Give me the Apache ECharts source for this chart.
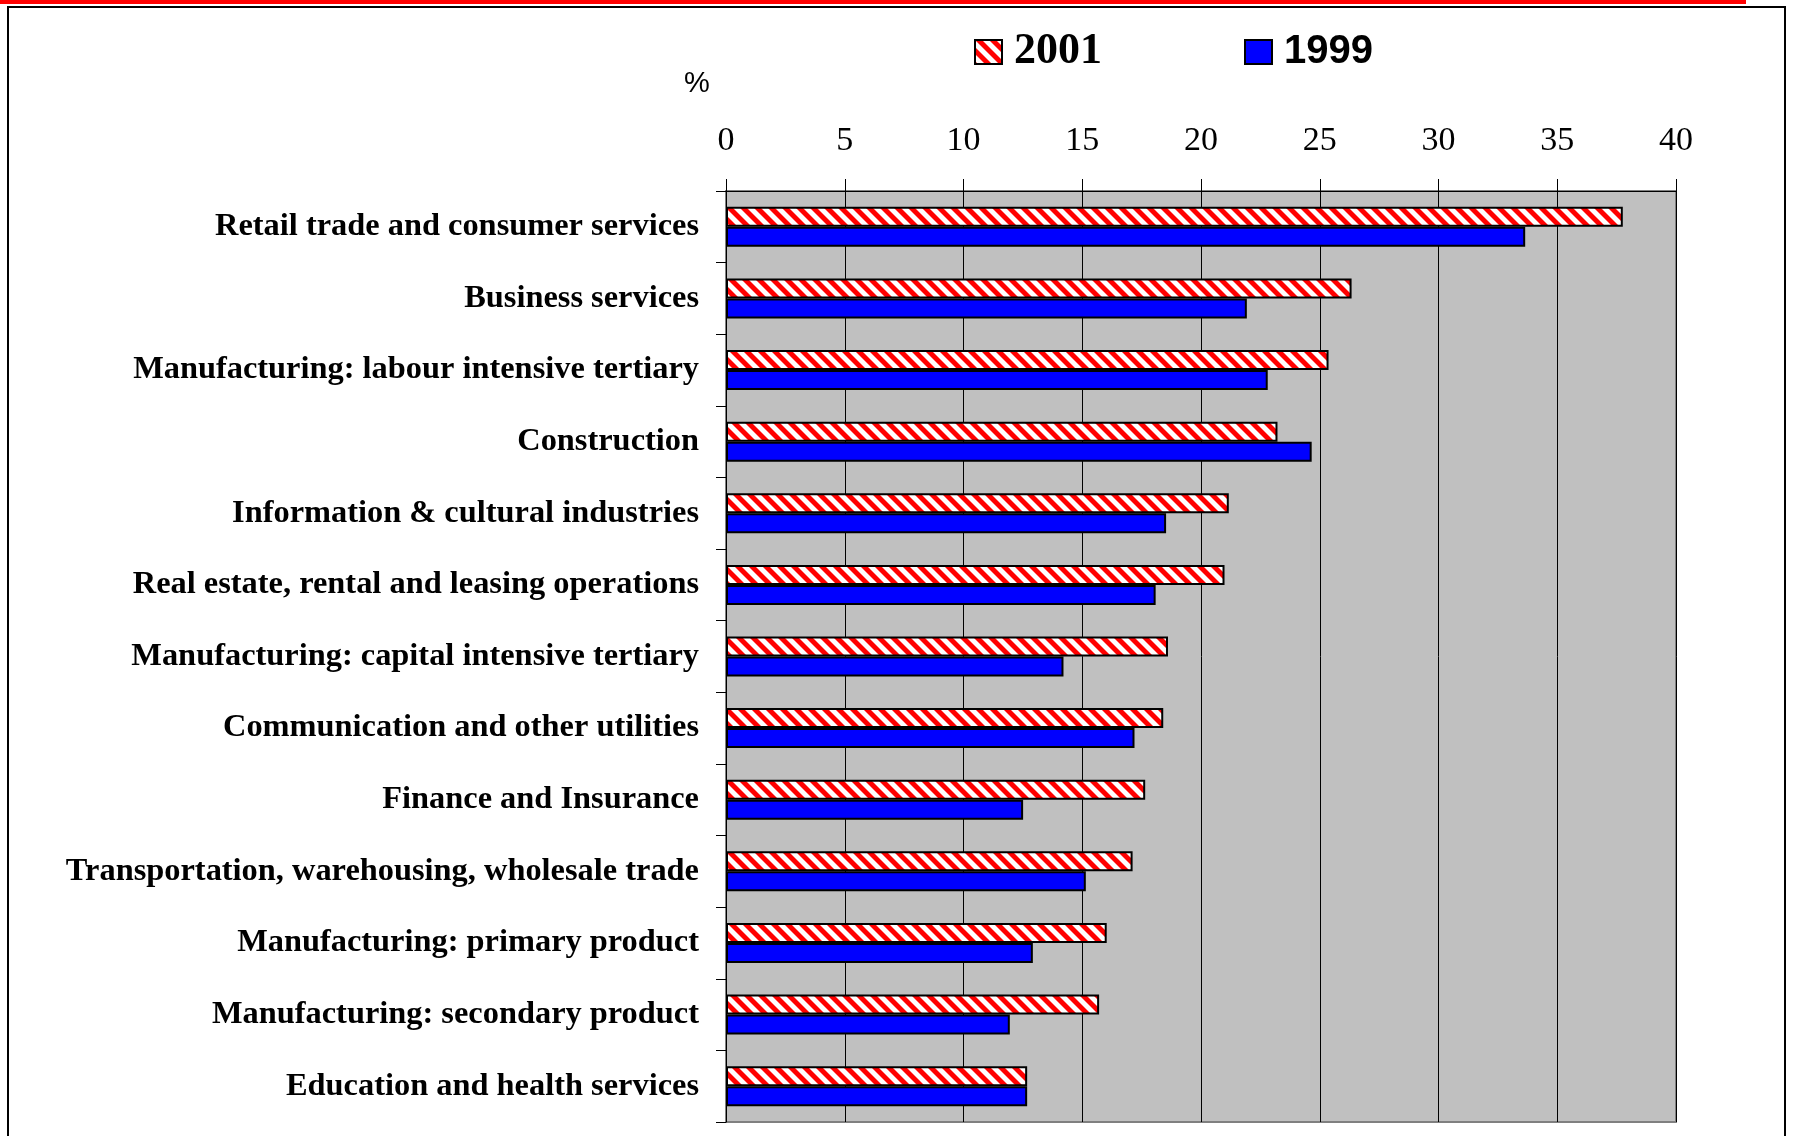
<!DOCTYPE html>
<html>
<head>
<meta charset="utf-8">
<script src="https://cdn.jsdelivr.net/npm/echarts@6/dist/echarts.min.js"></script>
<style>
html,body{margin:0;padding:0;background:#fff;}
#chart{width:1793px;height:1136px;}
</style>
</head>
<body>
<div id="chart"></div>
<script>
var categories = [
  "Retail trade and consumer services",
  "Business services",
  "Manufacturing: labour intensive tertiary",
  "Construction",
  "Information & cultural industries",
  "Real estate, rental and leasing operations",
  "Manufacturing: capital intensive tertiary",
  "Communication and other utilities",
  "Finance and Insurance",
  "Transportation, warehousing, wholesale trade",
  "Manufacturing: primary product",
  "Manufacturing: secondary product",
  "Education and health services"
];
var values2001 = [37.76, 26.34, 25.37, 23.22, 21.17, 20.99, 18.61, 18.41, 17.65, 17.12, 16.03, 15.71, 12.68];
var values1999 = [33.65, 21.93, 22.81, 24.66, 18.53, 18.09, 14.21, 17.20, 12.51, 15.15, 12.92, 11.95, 12.68];
var seriesNames = ["2001", "1999"];
var tickMin = 0, tickMax = 40, tickStep = 5;

// diagonal red/white hatch pattern
function makeHatch(P) {
  var c = document.createElement('canvas');
  c.width = P; c.height = P;
  var ctx = c.getContext('2d');
  ctx.fillStyle = '#ffffff';
  ctx.fillRect(0, 0, P, P);
  ctx.fillStyle = '#ff0000';
  for (var k = -2; k <= 1; k++) {
    var cx = k * P;
    ctx.beginPath();
    ctx.moveTo(cx, 0);
    ctx.lineTo(cx + P / 2, 0);
    ctx.lineTo(cx + P / 2 + P, P);
    ctx.lineTo(cx + P, P);
    ctx.closePath();
    ctx.fill();
  }
  return c;
}
var hatch = { image: makeHatch(14), repeat: 'repeat' };

var serif = "'Liberation Serif','Times New Roman',serif";
var sans = "'Liberation Sans',Arial,sans-serif";

var chart = echarts.init(document.getElementById('chart'), null, { renderer: 'canvas' });
chart.setOption({
  backgroundColor: '#ffffff',
  animation: false,
  graphic: [
    { type: 'rect', shape: { x: 0, y: 0, width: 1746, height: 4 }, style: { fill: '#ff0000' }, silent: true },
    { type: 'rect', shape: { x: 8, y: 7, width: 1777, height: 1200 }, style: { fill: null, stroke: '#000', lineWidth: 2 }, silent: true },
    { type: 'text', left: 684, top: 69, style: { text: '%', font: '29px ' + sans, fill: '#000' }, silent: true }
  ],
  legend: {
    left: 974,
    top: 30,
    padding: 0,
    itemWidth: 27,
    itemHeight: 24,
    itemGap: 142,
    icon: 'rect',
    data: [
      { name: '2001', itemStyle: { color: hatch, borderColor: '#000', borderWidth: 2 } },
      { name: '1999', itemStyle: { color: '#0000ff', borderColor: '#000', borderWidth: 2 } }
    ],
    formatter: function (n) { return n === '2001' ? '{t|' + n + '}' : '{a|' + n + '}'; },
    textStyle: {
      padding: [0, 0, 0, 7],
      rich: {
        t: { fontFamily: serif, fontWeight: 'bold', fontSize: 44, lineHeight: 40, color: '#000' },
        a: { fontFamily: sans, fontWeight: 'bold', fontSize: 40, lineHeight: 40, color: '#000' }
      }
    }
  },
  grid: {
    left: 726, right: 117, top: 191, bottom: 14,
    show: true, backgroundColor: '#c0c0c0', borderColor: '#808080', borderWidth: 2
  },
  xAxis: {
    type: 'value',
    position: 'top',
    min: tickMin, max: tickMax, interval: tickStep,
    axisLine: { show: true, lineStyle: { color: '#000', width: 1 } },
    axisTick: { show: true, length: 12, lineStyle: { color: '#000', width: 1 } },
    axisLabel: { margin: 33, fontFamily: serif, fontSize: 34, color: '#000' },
    splitLine: { show: true, lineStyle: { color: '#000', width: 1 } }
  },
  yAxis: {
    type: 'category',
    inverse: true,
    data: categories,
    axisLine: { show: true, lineStyle: { color: '#000', width: 1 } },
    axisTick: { show: true, length: 10, lineStyle: { color: '#000', width: 1 } },
    axisLabel: { margin: 27, fontFamily: serif, fontWeight: 'bold', fontSize: 32.4, color: '#000' }
  },
  series: [
    {
      name: seriesNames[0], type: 'bar', data: values2001,
      barWidth: 20, barGap: '0%',
      itemStyle: { color: hatch, borderColor: '#000', borderWidth: 2 }
    },
    {
      name: seriesNames[1], type: 'bar', data: values1999,
      barWidth: 20, barGap: '0%',
      itemStyle: { color: '#0000ff', borderColor: '#000', borderWidth: 2 }
    }
  ]
});
</script>
</body>
</html>
